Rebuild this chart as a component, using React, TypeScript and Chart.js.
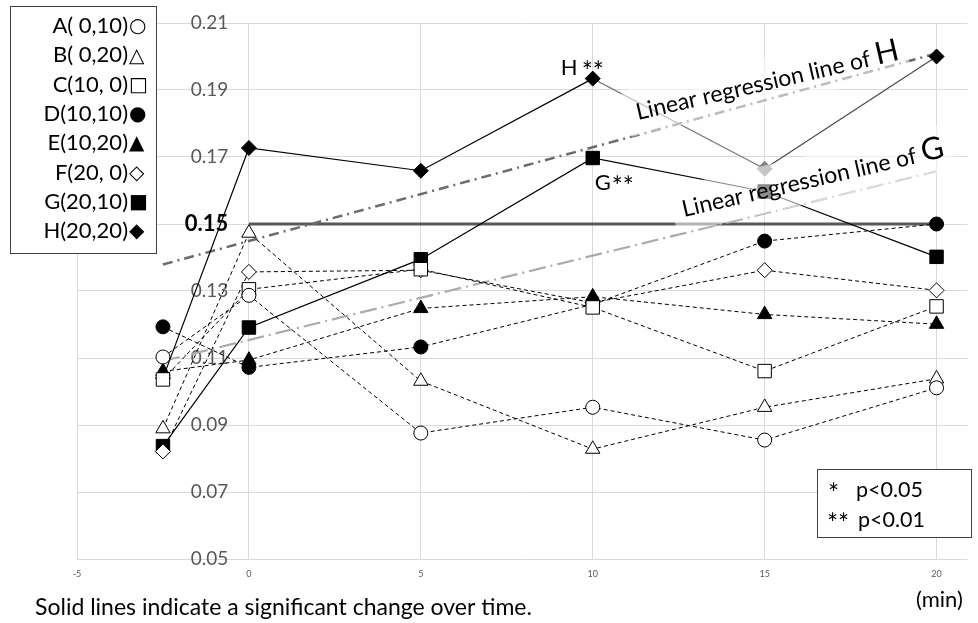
import React, { useEffect, useRef } from 'react';
import { Chart, registerables } from 'chart.js';

Chart.register(...registerables);

const FONT = 'Lato, "DejaVu Sans", sans-serif';

// Sampling times in minutes (first column = baseline before exposure)
const times = [-2.5, 0, 5, 10, 15, 20];

const seriesNames = ['A( 0,10)', 'B( 0,20)', 'C(10, 0)', 'D(10,10)', 'E(10,20)', 'F(20, 0)', 'G(20,10)', 'H(20,20)'];
const legendGlyphs = ['○', '△', '□', '●', '▲', '◇', '■', '◆'];

const valuesA = [0.1103, 0.1287, 0.0876, 0.0953, 0.0855, 0.1011];
const valuesB = [0.0889, 0.1473, 0.1031, 0.0828, 0.0953, 0.1038];
const valuesC = [0.1036, 0.1305, 0.1365, 0.1251, 0.1061, 0.1254];
const valuesD = [0.1193, 0.1072, 0.1133, 0.1260, 0.1449, 0.1500];
const valuesE = [0.1060, 0.1094, 0.1248, 0.1283, 0.1230, 0.1201];
const valuesF = [0.0821, 0.1357, 0.1362, 0.1265, 0.1362, 0.1302];
const valuesG = [0.0837, 0.1191, 0.1395, 0.1697, 0.1597, 0.1402];
const valuesH = [0.1040, 0.1727, 0.1659, 0.1934, 0.1665, 0.2000];

const xTickValues = [-5, 0, 5, 10, 15, 20];
const yTickValues = [0.05, 0.07, 0.09, 0.11, 0.13, 0.15, 0.17, 0.19, 0.21];

// Horizontal reference level drawn from t = 0 to t = 20
const referenceLevel = 0.15;
const referenceSpan = [0, 20];

const footnote = 'Solid lines indicate a significant change over time.';
const xUnit = '(min)';

type Marker = { style: string; filled: boolean; radius: number };
const markers: Marker[] = [
  { style: 'circle', filled: false, radius: 7 },
  { style: 'triangle', filled: false, radius: 8.3 },
  { style: 'rect', filled: false, radius: 9.5 },
  { style: 'circle', filled: true, radius: 7 },
  { style: 'triangle', filled: true, radius: 8.3 },
  { style: 'rectRot', filled: false, radius: 7.5 },
  { style: 'rect', filled: true, radius: 9.5 },
  { style: 'rectRot', filled: true, radius: 7.5 },
];

const allValues = [valuesA, valuesB, valuesC, valuesD, valuesE, valuesF, valuesG, valuesH];
const solidSeries = [6, 7]; // G and H changed significantly

// least-squares line through a series
function fitLine(xs: number[], ys: number[]) {
  const n = xs.length;
  const mx = xs.reduce((a, b) => a + b, 0) / n;
  const my = ys.reduce((a, b) => a + b, 0) / n;
  let sxy = 0;
  let sxx = 0;
  for (let i = 0; i < n; i++) {
    sxy += (xs[i] - mx) * (ys[i] - my);
    sxx += (xs[i] - mx) * (xs[i] - mx);
  }
  const slope = sxy / sxx;
  return (x: number) => my + slope * (x - mx);
}

const toPoints = (ys: number[]) => ys.map((y, i) => ({ x: times[i], y }));

function drawSlantedLabel(
  ctx: CanvasRenderingContext2D,
  x: number,
  y: number,
  angle: number,
  text: string,
  big: string,
  size: number,
  bigSize: number
) {
  ctx.save();
  ctx.translate(x, y);
  ctx.rotate((angle * Math.PI) / 180);
  ctx.font = `${size}px ${FONT}`;
  const w1 = ctx.measureText(text).width;
  ctx.font = `${bigSize}px ${FONT}`;
  const w2 = ctx.measureText(big).width;
  ctx.fillStyle = 'rgba(255,255,255,0.55)';
  ctx.fillRect(-10, -32, w1 + w2 + 18, 47);
  ctx.fillStyle = '#000';
  ctx.textBaseline = 'alphabetic';
  ctx.textAlign = 'left';
  ctx.font = `${size}px ${FONT}`;
  ctx.fillText(text, 0, 0);
  ctx.font = `${bigSize}px ${FONT}`;
  ctx.fillText(big, w1, 0);
  ctx.restore();
}

const overlayPlugin = {
  id: 'overlayText',
  afterDatasetsDraw(chart: any) {
    const ctx: CanvasRenderingContext2D = chart.ctx;
    ctx.save();
    ctx.fillStyle = '#000';
    ctx.textBaseline = 'alphabetic';
    ctx.textAlign = 'left';
    const hPt = chart.getDatasetMeta(7).data[3];
    const gPt = chart.getDatasetMeta(6).data[3];
    ctx.font = `22px ${FONT}`;
    ctx.fillText('H', hPt.x - 32, hPt.y - 4);
    ctx.font = `26px ${FONT}`;
    ctx.fillText('**', hPt.x - 11, hPt.y + 2);
    ctx.font = `22px ${FONT}`;
    ctx.fillText('G', gPt.x + 2, gPt.y + 32);
    ctx.font = `26px ${FONT}`;
    ctx.fillText('**', gPt.x + 19, gPt.y + 38);
    ctx.restore();

    drawSlantedLabel(ctx, 638, 120, -13, 'Linear regression line of ', 'H', 23, 31);
    drawSlantedLabel(ctx, 684, 217, -13, 'Linear regression line of ', 'G', 23, 31);
  },
  afterDraw(chart: any) {
    const ctx: CanvasRenderingContext2D = chart.ctx;
    ctx.save();
    // legend box
    ctx.fillStyle = '#fff';
    ctx.fillRect(10.5, 6.5, 146, 247);
    ctx.strokeStyle = '#404040';
    ctx.lineWidth = 1;
    ctx.strokeRect(10.5, 6.5, 146, 247);
    ctx.fillStyle = '#000';
    ctx.textBaseline = 'middle';
    for (let i = 0; i < seriesNames.length; i++) {
      const cy = 26 + i * 29.3;
      ctx.textAlign = 'right';
      ctx.font = `22px ${FONT}`;
      ctx.fillText(seriesNames[i], 128, cy);
      ctx.textAlign = 'left';
      ctx.font = `20px "DejaVu Sans", sans-serif`;
      ctx.fillText(legendGlyphs[i], 129, cy + 1);
    }

    // significance key
    ctx.fillStyle = '#fff';
    ctx.fillRect(817.5, 469.5, 154, 68);
    ctx.strokeStyle = '#404040';
    ctx.strokeRect(817.5, 469.5, 154, 68);
    ctx.fillStyle = '#000';
    ctx.textBaseline = 'alphabetic';
    ctx.textAlign = 'left';
    ctx.font = `26px ${FONT}`;
    ctx.fillText('*', 828, 503);
    ctx.fillText('**', 827, 533);
    ctx.font = `21.5px ${FONT}`;
    ctx.fillText('p<0.05', 856, 497);
    ctx.fillText('p<0.01', 858, 527);

    ctx.font = `23px ${FONT}`;
    ctx.fillText(footnote, 35, 615);
    ctx.font = `22px ${FONT}`;
    ctx.fillText(xUnit, 916, 607);
    ctx.restore();
  },
};

export default function App() {
  const canvasRef = useRef<HTMLCanvasElement | null>(null);

  useEffect(() => {
    document.body.style.margin = '0';
    const canvas = canvasRef.current;
    if (!canvas) return;

    const datasets: any[] = allValues.map((vals, i) => {
      const m = markers[i];
      const solid = solidSeries.includes(i);
      const fill = vals.map(() => (m.filled ? '#000' : '#fff'));
      const edge = vals.map(() => '#000');
      let segment: any = undefined;
      if (i === 7) {
        // later H segments and the 15-min H point are shown in grey
        fill[4] = '#808080';
        edge[4] = '#808080';
        segment = {
          borderColor: (c: any) => (c.p0DataIndex === 3 ? '#7a7a7a' : c.p0DataIndex === 4 ? '#4a4a4a' : undefined),
        };
      }
      return {
        label: seriesNames[i],
        data: toPoints(vals),
        borderColor: '#000',
        borderWidth: solid ? 1.2 : 1,
        borderDash: solid ? [] : [4, 3],
        pointStyle: m.style,
        pointRadius: m.radius,
        pointBackgroundColor: fill,
        pointBorderColor: edge,
        pointBorderWidth: 1,
        fill: false,
        tension: 0,
        segment,
        order: 0,
      };
    });

    const fitG = fitLine(times, valuesG);
    const fitH = fitLine(times, valuesH);
    const t0 = times[0];
    const t1 = times[times.length - 1];

    datasets.push({
      label: 'Linear regression line of H',
      data: [{ x: t0, y: fitH(t0) }, { x: t1, y: fitH(t1) }],
      borderColor: '#6b6b6b',
      borderWidth: 2.5,
      borderDash: [10, 5, 2, 5],
      pointRadius: 0,
      fill: false,
      order: 5,
    });
    datasets.push({
      label: 'Linear regression line of G',
      data: [{ x: t0, y: fitG(t0) }, { x: t1, y: fitG(t1) }],
      borderColor: '#ababab',
      borderWidth: 2.2,
      borderDash: [17, 5, 2, 5],
      pointRadius: 0,
      fill: false,
      order: 5,
    });
    datasets.push({
      label: 'reference',
      data: referenceSpan.map((x) => ({ x, y: referenceLevel })),
      borderColor: '#595959',
      borderWidth: 3,
      pointRadius: 0,
      fill: false,
      order: 10,
    });

    const chart = new Chart(canvas, {
      type: 'line',
      data: { datasets },
      options: {
        responsive: false,
        animation: false,
        events: [],
        layout: { padding: { left: 77, top: 23, right: 0, bottom: 64 } },
        plugins: { legend: { display: false }, tooltip: { enabled: false } },
        scales: {
          x: {
            type: 'linear',
            min: -5,
            max: 20.9,
            position: { y: 0.05 } as any,
            afterBuildTicks: (axis: any) => {
              axis.ticks = xTickValues.map((v) => ({ value: v }));
            },
            grid: { color: '#d9d9d9', lineWidth: 1, drawTicks: false },
            border: { display: false },
            ticks: {
              autoSkip: false,
              maxRotation: 0,
              padding: 10,
              color: '#595959',
              font: { family: FONT, size: 9 },
              callback: (v: any) => String(v),
            },
          },
          y: {
            type: 'linear',
            min: 0.05,
            max: 0.21,
            position: { x: -0.6 } as any,
            afterBuildTicks: (axis: any) => {
              axis.ticks = yTickValues.map((v) => ({ value: v }));
            },
            grid: { color: '#d9d9d9', lineWidth: 1, drawTicks: false },
            border: { display: false },
            ticks: {
              autoSkip: false,
              padding: 0,
              color: (c: any) => (c.tick && Math.abs(c.tick.value - referenceLevel) < 1e-9 ? '#000' : '#595959'),
              font: (c: any) =>
                c.tick && Math.abs(c.tick.value - referenceLevel) < 1e-9
                  ? { family: FONT, size: 22, weight: 'bold' }
                  : { family: FONT, size: 19 },
              callback: (v: any) => Number(v).toFixed(2),
            },
          },
        },
      },
      plugins: [overlayPlugin],
    });

    return () => chart.destroy();
  }, []);

  return (
    <div style={{ position: 'relative', width: 978, height: 623, background: '#fff' }}>
      <canvas ref={canvasRef} width={978} height={623} style={{ display: 'block', width: 978, height: 623 }} />
    </div>
  );
}
